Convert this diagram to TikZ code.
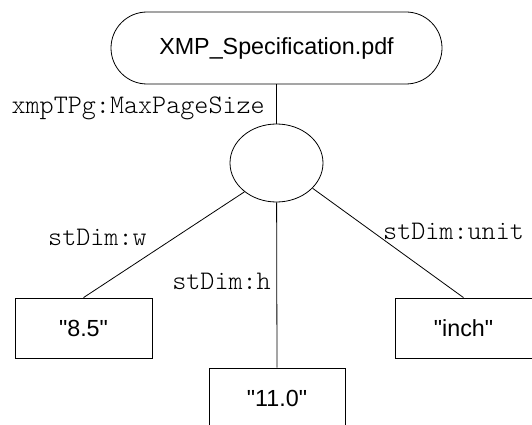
\documentclass[tikz,border=0pt]{standalone}
\usepackage{fontspec}
\setmainfont{Liberation Sans}[Ligatures=TeXOff]
\newfontfamily\monof{Latin Modern Mono Light}
\usetikzlibrary{shapes.geometric}
\begin{document}
\begin{tikzpicture}[x=1pt,y=1pt,
  every node/.style={font=\fontsize{23.3}{27}\selectfont},
  conn/.style={draw=black,line width=0.8pt},
  valbox/.style={draw,line width=0.8pt,rectangle,minimum width=137pt,minimum height=60pt,inner sep=0pt},
  lbl/.style={font=\fontsize{26.8}{30}\monof,inner sep=0pt}]
\useasboundingbox[clip] (0,0) rectangle (532,424);
\node[draw,line width=0.8pt,rectangle,rounded corners=36pt,minimum width=331pt,minimum height=72pt,inner sep=0pt] (top) at (276.5,376) {XMP\_Specification.pdf};
\node[draw,line width=0.8pt,ellipse,minimum width=93pt,minimum height=78pt,inner sep=0pt] (e) at (276.5,261) {};
\node[valbox] (a) at (83.5,96) {"8.5"};
\node[valbox,minimum width=136pt] (b) at (277,26) {"11.0"};
\node[valbox] (c) at (463.5,96) {"inch"};
\draw[conn] (top) -- (e);
\draw[conn] (e.222.6) -- (a.north);
\draw[conn] (e) -- (b.north);
\draw[conn] (e.325.6) -- (c.north);
\node[lbl,anchor=base east] (l1) at (265,311) {xmpTPg:MaxPageSize};
\node[lbl,anchor=base west] (l2) at (48,179) {stDim:w};
\node[lbl,anchor=base east] (l3) at (271,135) {stDim:h};
\node[lbl,anchor=base west] (l4) at (383,185) {stDim:unit};
\end{tikzpicture}
\end{document}
